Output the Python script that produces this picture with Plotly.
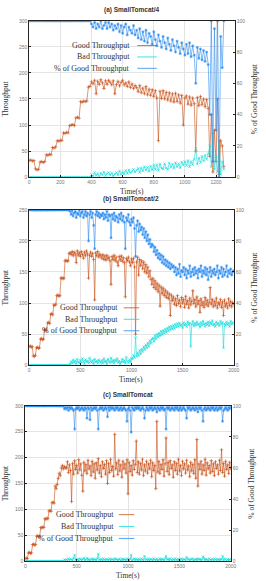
import plotly.graph_objects as go

# ---------------- DATA ----------------
# Panel (a) SmallTomcat/4 : time step 10 s, 0..1250
t_a = list(range(0, 1260, 10))
good_a = [32, 33, 31, 32, 16, 14, 15, 29, 30, 28, 30, 43, 42, 44, 43, 57, 56, 58, 70, 69,
          71, 70, 85, 84, 86, 85, 99, 100, 101, 99, 114, 115, 113, 145, 144, 146, 145, 146, 173, 174,
          183, 179, 186, 160, 184, 178, 187, 181, 170, 185, 178, 186, 182, 177, 185, 160,
          178, 184, 175, 182, 186, 177, 181, 174, 183, 172, 179, 170, 176,
          172, 164, 176, 162, 171, 160, 174, 158, 169, 157, 168, 155, 166, 152, 70, 165,
          151, 166, 150, 163, 148, 162, 146, 160, 144, 161, 145, 158, 142, 157, 100, 152,
          156, 140, 154, 138, 152, 141, 50, 153, 137, 155, 139, 150, 135, 149, 132,
          40, 120, 10, 90, 30, 150, 5, 70, 60, 20]
bad_a = [0] * 40 + [
          5, 2, 9, 3, 7, 1, 8, 4, 10, 3, 7, 9, 4, 8, 2, 6,
          9, 4, 12, 5, 10, 6, 13, 7, 14, 8, 11, 15, 10,
          13, 17, 9, 18, 12, 20, 13, 19, 11, 21, 14, 23, 15, 24, 13, 25,
          17, 16, 26, 18, 15, 27, 19, 25, 17, 28, 20, 26, 18, 29, 23, 30,
          22, 32, 20, 30, 24, 34, 55, 25, 37, 28, 40, 31, 42, 34, 45,
          60, 20, 85, 15, 40, 10, 70, 5, 30, 15]
pct_a = [100] * 40 + [
          98, 96, 99, 95, 98, 96, 100, 95, 97, 99, 95, 99, 96, 98, 94, 97,
          95, 98, 93, 97, 92, 96, 98, 91, 96, 94, 92, 97, 91,
          94, 89, 95, 88, 93, 87, 94, 86, 92, 90, 85, 93, 88, 84, 91, 87,
          83, 90, 86, 82, 89, 85, 81, 88, 84, 80, 87, 83, 79, 86, 82, 78,
          85, 79, 86, 77, 84, 78, 60, 83, 76, 82, 75, 81, 74, 80, 72,
          40, 100, 10, 95, 30, 100, 0, 90, 70, 100]

# Panel (b) SmallTomcat/2 : 10 s steps, 0..2000
t_b = list(range(0, 2010, 10))
good_b = [30, 31, 29, 30, 15, 14, 16, 28, 29, 27, 28, 42, 43, 41, 42, 57, 56, 58, 68, 69,
          67, 82, 83, 81, 97, 96, 98, 112, 113, 111, 112, 140, 141, 139, 140, 168, 169, 167, 168, 180,
          181, 178, 183, 176, 182, 179, 165, 184, 177, 181,
          175, 183, 178, 172, 182, 176, 184, 179, 140, 177,
          182, 175, 180, 170, 105, 181, 176, 183, 174, 179,
          176,
          172, 178, 170, 176, 169, 177, 171, 174, 168, 130,
          175, 170, 177, 168, 174, 166, 160, 175, 169, 176,
          167, 173, 165, 110, 172, 168, 174, 166, 160, 171,
          165, 172, 158, 50, 166, 174, 145, 170, 160, 168,
          155, 166, 150, 162, 148, 158, 142, 152, 138, 130,
          140, 125, 136, 122, 132, 118, 129, 95, 126, 115,
          124, 112, 121, 109, 118, 107, 115, 80, 113, 104,
          110, 98, 107, 96, 112, 99, 105, 94, 109, 100,
          106, 93, 111, 98, 104, 92, 108, 97, 103, 120,
          99, 106, 94, 110, 98, 104, 85, 107, 96, 102,
          93, 109, 97, 105, 95, 101, 125, 98, 106, 94,
          103, 96, 108, 92, 101, 97, 106, 93, 102, 80,
          105, 95, 100, 92, 107, 96, 103, 94, 101, 98]
bad_b = [0] * 40 + [
          2, 6, 3, 9, 4, 7, 2, 10, 5, 3,
          8, 4, 11, 6, 2, 9, 5, 7, 3, 12,
          6, 4, 8, 2, 10, 5, 7, 3, 9, 6,
          4,
          8, 3, 11, 5, 7, 2, 10, 6, 4, 12,
          5, 8, 3, 9, 6, 11, 4, 7, 2, 5,
          10, 5, 8, 3, 13, 6, 4, 9, 5, 11,
          10, 16, 12, 45, 14, 20, 15, 24, 18, 26,
          22, 30, 25, 33, 28, 36, 30, 40, 35, 42,
          44, 38, 48, 42, 50, 45, 52, 47, 55, 49,
          56, 51, 58, 53, 60, 55, 62, 57, 63, 58,
          64, 59, 66, 61, 67, 62, 68, 63, 66, 60,
          69, 64, 67, 62, 70, 65, 68, 30, 66, 71,
          63, 68, 64, 70, 65, 67, 61, 69, 64, 71,
          66, 62, 68, 65, 70, 63, 69, 66, 72, 64,
          67, 62, 70, 65, 68, 63, 71, 66, 69, 28,
          67, 64, 70, 65, 68, 62, 71, 66, 69, 67]
pct_b = [100] * 40 + [
          99, 97, 100, 96, 98, 99, 95, 98, 97, 100, 96, 98, 99, 95, 97, 99, 96, 98, 80, 97,
          99, 95, 98, 90, 75, 97, 99, 96, 98, 95, 97,
          96, 98, 94, 97, 95, 99, 93, 97, 96, 82, 97, 94, 98, 93, 96, 95, 92, 97, 94, 98,
          93, 96, 92, 75, 95, 93, 97, 92, 90, 94,
          92, 95, 88, 70, 90, 93, 86, 91, 87, 89, 84, 88, 82, 86, 80, 84, 78, 81, 76, 78,
          77, 73, 76, 71, 74, 69, 72, 68, 71, 66, 70, 65, 68, 64, 67, 63, 66, 62, 65, 63,
          64, 60, 63, 58, 62, 59, 65, 57, 61, 60, 63, 58, 62, 56, 61, 59, 64, 57, 60, 62,
          58, 63, 59, 61, 56, 62, 60, 64, 57, 61, 59, 63, 58, 62, 55, 60, 63, 57, 61, 59,
          62, 58, 60, 64, 56, 61, 59, 63, 57, 62, 58, 60, 64, 57, 61, 59, 62, 58, 60, 61]

# Panel (c) SmallTomcat : 10 s steps, 0..2000
t_c = list(range(0, 2010, 10))
good_c = [5, 6, 5, 16, 17, 15, 16, 32, 33, 31, 32, 48, 49, 47, 48, 65, 64, 66, 65, 82,
          81, 83, 82, 97, 98, 96, 113, 114, 112, 145, 140, 148, 160, 170, 165, 180, 185, 178, 183, 180,
          180, 192, 171, 186, 175, 115, 189, 168, 194, 177,
          185, 170, 196, 176, 188, 166, 135, 191, 174, 187,
          169, 195, 178, 184, 165, 193, 172, 188, 160, 190,
          176, 198, 170, 185, 163, 192, 179, 187, 168, 194,
          150, 189, 171, 197, 175, 183, 164, 245, 178, 190,
          167, 195, 174, 186, 162, 193, 178, 188, 170, 196,
          130, 191, 173, 185, 166, 194, 177, 187, 232, 171,
          192, 168, 189, 176, 197, 165, 186, 174, 193, 170,
          188, 178, 195, 163, 190, 175, 185, 140, 270, 172,
          193, 169, 187, 177, 196, 164, 188, 238, 173, 191,
          167, 194, 179, 186, 162, 192, 175, 189, 168, 197,
          174, 185, 165, 193, 178, 188, 170, 195, 176, 184,
          163, 191, 174, 187, 169, 196, 160, 235, 145, 188,
          177, 193, 168, 186, 175, 197, 166, 190, 178, 185,
          170, 194, 173, 188, 165, 192, 179, 186, 168, 195,
          175, 215, 171, 189, 164, 193, 177, 186, 169, 191,
          178]
bad_c = [0] * 38 + [3, 2] + [
          3, 1, 5, 2, 4, 3, 2, 6, 12, 3,
          2, 4, 1, 5, 3, 2, 4, 6, 2, 3,
          6, 2, 4, 1, 3, 5, 2, 4, 3, 2,
          5, 14, 3, 2, 4, 1, 5, 3, 2, 4,
          3, 2, 5, 1, 4, 3, 2, 5, 4, 3,
          2, 4, 3, 1, 5, 2, 4, 3, 2, 5,
          3, 2, 4, 12, 1, 3, 5, 2, 4, 3,
          2, 4, 1, 5, 3, 2, 10, 4, 3, 2,
          5, 1, 4, 3, 2, 5, 3, 2, 4, 1,
          3, 5, 2, 4, 3, 2, 5, 10, 3, 4,
          2, 5, 3, 1, 4, 2, 5, 3, 2, 4,
          3, 2, 5, 1, 4, 3, 2, 8, 4, 3,
          2, 4, 3, 5, 1, 3, 4, 2, 5, 3,
          4, 2, 3, 9, 5, 2, 4, 3, 1, 5,
          3, 2, 4, 1, 5, 3, 2, 4, 3, 2,
          4, 3, 10, 2, 5, 3, 1, 4, 2, 3,
          4]
pct_c = [100] * 38 + [98, 99] + [
          98, 99, 97, 99, 98, 99, 98, 97, 85, 98,
          99, 98, 99, 97, 98, 99, 98, 97, 99, 98,
          92, 99, 98, 91, 99, 97, 98, 99, 98, 99,
          97, 85, 98, 99, 98, 99, 97, 98, 99, 98,
          93, 99, 97, 99, 98, 99, 98, 97, 99, 98,
          99, 97, 98, 99, 97, 98, 99, 98, 97, 90,
          98, 99, 97, 83, 99, 98, 97, 99, 98, 99,
          98, 99, 97, 98, 99, 98, 92, 97, 99, 98,
          97, 99, 98, 99, 97, 98, 99, 98, 96, 99,
          98, 97, 99, 98, 99, 97, 98, 85, 99, 98,
          99, 97, 98, 99, 98, 97, 99, 98, 99, 97,
          98, 99, 97, 98, 99, 98, 97, 92, 99, 98,
          99, 97, 98, 99, 98, 97, 99, 98, 96, 99,
          98, 99, 97, 90, 98, 99, 97, 98, 99, 98,
          97, 99, 98, 99, 97, 98, 99, 97, 98, 99,
          98, 99, 90, 97, 98, 99, 98, 97, 99, 98,
          99]

titles = ["(a) SmallTomcat/4", "(b) SmallTomcat/2", "(c) SmallTomcat"]
series_names = ["Good Throughput", "Bad Throughput", "% of Good Throughput"]
x_ranges = [[0, 1320], [0, 2000], [0, 2000]]
x_dticks = [200, 500, 500]
y_ranges = [[0, 300], [0, 250], [0, 300]]

for arr_t, arrs in [(t_a, (good_a, bad_a, pct_a)), (t_b, (good_b, bad_b, pct_b)), (t_c, (good_c, bad_c, pct_c))]:
    for a in arrs:
        assert len(a) == len(arr_t), (len(a), len(arr_t))

# ---------------- STYLE ----------------
W, H = 266, 581
COL_GOOD = "#c8501a"
COL_BAD = "#12dcdc"
COL_PCT = "#2a8cf0"
SERIF = "Liberation Serif"
SANS = "Liberation Sans"

# plot boxes in pixels: (left, right, top, bottom)
boxes = [(29, 240, 18, 176), (29, 239, 209, 366), (25, 236, 407, 564)]
# key: right end of text (px), first row centre y (px), row step, sample x0, x1
keys = [(135, 43, 11.5, 140, 160), (122, 308, 11.6, 126, 142), (118, 517, 12, 121, 137)]

fig = go.Figure()
panels = [(t_a, good_a, bad_a, pct_a), (t_b, good_b, bad_b, pct_b), (t_c, good_c, bad_c, pct_c)]
symbols = ["cross-thin", "x-thin", "asterisk"]
cols = [COL_GOOD, COL_BAD, COL_PCT]

layout = {}
annotations = []
shapes = []
for i, (t, g, b, p) in enumerate(panels):
    n = i + 1
    xa = "x" if n == 1 else f"x{n}"
    yl_n = 2 * i + 1
    yr_n = 2 * i + 2
    yl = "y" if yl_n == 1 else f"y{yl_n}"
    yr = f"y{yr_n}"
    for k, (vals, ya) in enumerate([(g, yl), (b, yl), (p, yr)]):
        fig.add_trace(go.Scatter(
            x=t, y=vals, xaxis=xa, yaxis=ya, name=series_names[k], showlegend=False,
            mode="lines+markers",
            line=dict(color=cols[k], width=0.6),
            marker=dict(symbol=symbols[k], size=2.5, color=cols[k],
                        line=dict(width=0.6, color=cols[k])),
            cliponaxis=True,
        ))
    l, r, tp, bt = boxes[i]
    xdom = [l / W, r / W]
    ydom = [1 - bt / H, 1 - tp / H]
    axis_common = dict(showline=True, linecolor="#222", linewidth=1, ticks="inside",
                       ticklen=2, tickcolor="#222", tickfont=dict(family=SANS, size=5, color="#777"),
                       showgrid=True, gridcolor="#e4e4e4", gridwidth=0.5, zeroline=False)
    layout[f"xaxis{'' if n == 1 else n}"] = dict(
        domain=xdom, anchor=yl, range=x_ranges[i], dtick=x_dticks[i], tick0=0,
        mirror=True, **axis_common)
    layout[f"yaxis{'' if yl_n == 1 else yl_n}"] = dict(
        domain=ydom, anchor=xa, range=y_ranges[i], dtick=50, tick0=0, **axis_common)
    ac = dict(axis_common)
    ac["showgrid"] = False
    layout[f"yaxis{yr_n}"] = dict(
        domain=ydom, anchor=xa, overlaying=yl, side="right", range=[0, 100], dtick=20, tick0=0, **ac)

    # key (gnuplot style: right-aligned text, sample line to the right)
    kx, ky, kstep, sx0, sx1 = keys[i]
    for k in range(3):
        yy = ky + k * kstep
        annotations.append(dict(text=series_names[k], x=kx / W, y=1 - yy / H, xref="paper", yref="paper",
                                showarrow=False, xanchor="right", yanchor="middle",
                                font=dict(family=SERIF, size=8, color="#333")))
        shapes.append(dict(type="line", xref="paper", yref="paper", x0=sx0 / W, x1=sx1 / W,
                           y0=1 - yy / H, y1=1 - yy / H, line=dict(color=cols[k], width=0.8)))

    cx = (l + r) / 2
    annotations.append(dict(text=f"<b>{titles[i]}</b>", x=cx / W, y=1 - (tp - 11) / H, xref="paper",
                            yref="paper", showarrow=False, font=dict(family=SANS, size=6.5, color="#333"),
                            xanchor="center", yanchor="middle"))
    annotations.append(dict(text="Throughput", x=5 / W, y=1 - ((tp + bt) / 2) / H, xref="paper",
                            yref="paper", showarrow=False, textangle=-90,
                            font=dict(family=SERIF, size=7.5, color="#333"),
                            xanchor="center", yanchor="middle"))
    annotations.append(dict(text="% of Good Throughput", x=(r + 21) / W, y=1 - ((tp + bt) / 2) / H,
                            xref="paper", yref="paper", showarrow=False, textangle=-90,
                            font=dict(family=SERIF, size=7.5, color="#333"),
                            xanchor="center", yanchor="middle"))
    annotations.append(dict(text="Time(s)", x=cx / W, y=1 - (bt + 14) / H, xref="paper",
                            yref="paper", showarrow=False,
                            font=dict(family=SERIF, size=7.5, color="#333"),
                            xanchor="center", yanchor="middle"))

fig.update_layout(width=W, height=H, margin=dict(l=0, r=0, t=0, b=0),
                  paper_bgcolor="white", plot_bgcolor="white", annotations=annotations,
                  shapes=shapes, showlegend=False, **layout)
fig.write_html("out.html")
